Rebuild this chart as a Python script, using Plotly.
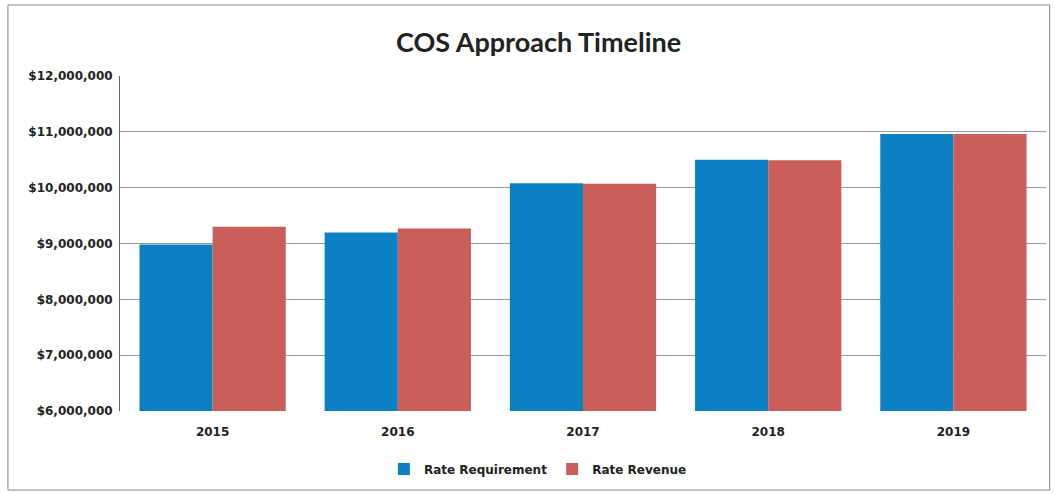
import plotly.graph_objects as go

years = ["2015", "2016", "2017", "2018", "2019"]
rate_requirement = [8980000, 9195000, 10080000, 10500000, 10960000]
rate_revenue = [9300000, 9270000, 10070000, 10490000, 10960000]
y_ticks = [6000000, 7000000, 8000000, 9000000, 10000000, 11000000, 12000000]
y_tick_labels = ["$6,000,000", "$7,000,000", "$8,000,000", "$9,000,000",
                 "$10,000,000", "$11,000,000", "$12,000,000"]

BLUE = "#0C80C3"
RED = "#C95E5A"
FONT = "DejaVu Sans"

fig = go.Figure()
fig.add_trace(go.Bar(name="<b>Rate Requirement</b>", x=years, y=rate_requirement,
                     marker=dict(color=BLUE, line=dict(width=0))))
fig.add_trace(go.Bar(name="<b>Rate Revenue</b>", x=years, y=rate_revenue,
                     marker=dict(color=RED, line=dict(width=0))))

fig.update_layout(
    width=1055, height=495,
    paper_bgcolor="white", plot_bgcolor="white",
    margin=dict(l=120, r=9, t=76, b=84),
    barmode="group", bargap=0.21, bargroupgap=0,
    title=dict(text="<b>COS Approach Timeline</b>", x=0.5105, xanchor="center",
               y=0.915, yanchor="middle",
               font=dict(family="Lato", size=27, color="#222222")),
    xaxis=dict(showgrid=False, showline=False, ticks="",
               ticklabelstandoff=12,
               tickfont=dict(family=FONT, size=12, color="#222222"),
               tickprefix="<b>", ticksuffix="</b>"),
    yaxis=dict(range=[6000000, 12000000], tickvals=y_ticks,
               ticktext=["<b>%s</b>" % t for t in y_tick_labels],
               showgrid=True, gridcolor="#9a9a9a", gridwidth=1,
               showline=True, linecolor="#666666", linewidth=1,
               zeroline=False, ticks="", ticklabelstandoff=4,
               tickfont=dict(family=FONT, size=12, color="#222222")),
    legend=dict(orientation="h", x=0.285, xanchor="left", y=-0.13, yanchor="top",
                font=dict(family=FONT, size=12, color="#222222"),
                itemwidth=30, traceorder="normal"),
    showlegend=True,
)

fig.add_shape(type="rect", xref="paper", yref="paper",
              x0=-0.121, x1=1.004, y0=-0.236, y1=1.212,
              line=dict(color="#888888", width=1), fillcolor="rgba(0,0,0,0)",
              layer="below")

fig.write_html("out.html", config={"displayModeBar": False},
               post_script="document.body.style.margin='0';document.body.style.overflow='hidden';")
